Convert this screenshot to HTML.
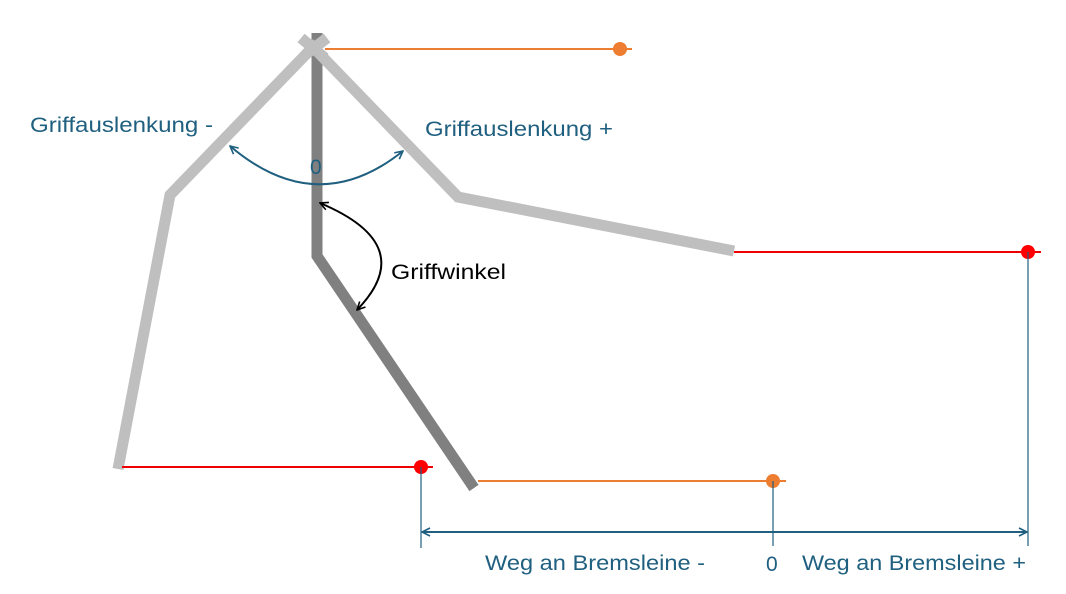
<!DOCTYPE html>
<html><head><style>body{margin:0;background:#fff}svg{display:block}</style></head>
<body>
<svg width="1066" height="594" viewBox="0 0 1066 594" xmlns="http://www.w3.org/2000/svg" font-family="Liberation Sans, sans-serif">
<defs>
<marker id="ab" viewBox="0 0 10 10" refX="9" refY="5" markerWidth="10" markerHeight="10" orient="auto-start-reverse" markerUnits="userSpaceOnUse"><path d="M1,1 L9,5 L1,9" fill="none" stroke="#1f5f7f" stroke-width="1.6"/></marker>
<marker id="ak" viewBox="0 0 10 10" refX="9" refY="5" markerWidth="10" markerHeight="10" orient="auto-start-reverse" markerUnits="userSpaceOnUse"><path d="M1,1 L9,5 L1,9" fill="none" stroke="#000" stroke-width="1.6"/></marker>
</defs>
<polyline points="317,33 317,256 474,488" fill="none" stroke="#808080" stroke-width="11"/>
<polyline points="118,469 170,195 313,47 458,197 734,251" fill="none" stroke="#bfbfbf" stroke-width="11" stroke-linejoin="miter"/>
<line x1="301" y1="38" x2="325" y2="58" stroke="#bfbfbf" stroke-width="11"/>
<line x1="305" y1="55" x2="327" y2="38" stroke="#bfbfbf" stroke-width="11"/>
<line x1="325" y1="49" x2="632" y2="49" stroke="#ed7d31" stroke-width="2"/>
<circle cx="620" cy="49" r="7" fill="#ed7d31"/>
<line x1="734" y1="252" x2="1041" y2="252" stroke="#e00" stroke-width="2"/>
<circle cx="1028" cy="252" r="7" fill="#f00"/>
<line x1="122" y1="467" x2="433" y2="467" stroke="#e00" stroke-width="2"/>
<circle cx="421" cy="467" r="7" fill="#f00"/>
<line x1="478" y1="481" x2="786" y2="481" stroke="#ed7d31" stroke-width="2"/>
<circle cx="773" cy="481" r="7" fill="#ed7d31"/>
<g stroke="#1f5f7f" stroke-width="1.2">
<line x1="421" y1="467" x2="421" y2="548"/>
<line x1="773" y1="481" x2="773" y2="546"/>
<line x1="1028" y1="252" x2="1028" y2="546"/>
</g>
<line x1="422" y1="532" x2="1027" y2="532" stroke="#1f5f7f" stroke-width="2" marker-start="url(#ab)" marker-end="url(#ab)"/>
<path d="M230,146 Q317,220 403,151" fill="none" stroke="#1f5f7f" stroke-width="2" marker-start="url(#ab)" marker-end="url(#ab)"/>
<path d="M320,203 Q420,245 357,310" fill="none" stroke="#000" stroke-width="2" marker-start="url(#ak)" marker-end="url(#ak)"/>
<g fill="#1f5f7f" font-size="21">
<text x="30" y="132" textLength="183" lengthAdjust="spacingAndGlyphs">Griffauslenkung -</text>
<text x="425" y="136" textLength="188" lengthAdjust="spacingAndGlyphs">Griffauslenkung +</text>
<text x="310" y="174">0</text>
<text x="485" y="570" textLength="220" lengthAdjust="spacingAndGlyphs">Weg an Bremsleine -</text>
<text x="766" y="571">0</text>
<text x="802" y="570" textLength="224" lengthAdjust="spacingAndGlyphs">Weg an Bremsleine +</text>
</g>
<text x="391" y="279" font-size="21" fill="#000" textLength="115" lengthAdjust="spacingAndGlyphs">Griffwinkel</text>
</svg>
</body></html>
